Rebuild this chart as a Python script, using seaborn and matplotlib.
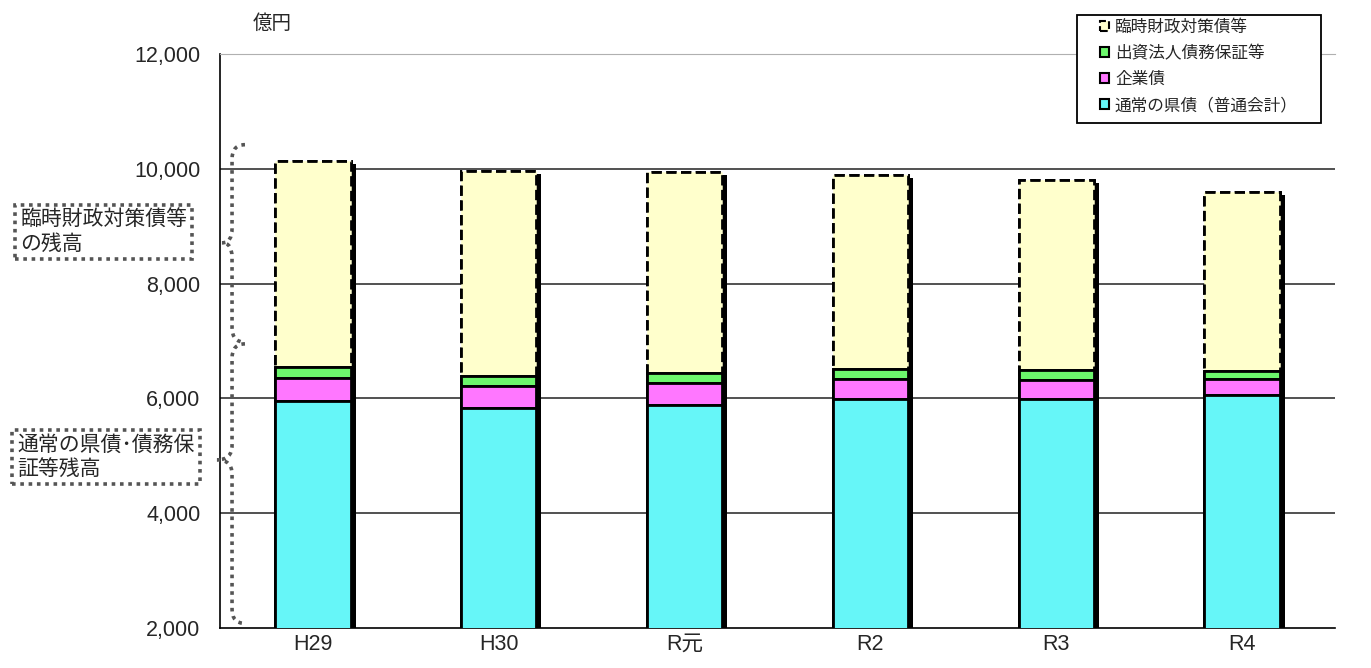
import numpy as np
import pandas as pd
import matplotlib
matplotlib.use("Agg")
import matplotlib.pyplot as plt
import matplotlib.patheffects as pe
from matplotlib.path import Path
from matplotlib.patches import PathPatch, Patch, Rectangle
import matplotlib.transforms as mtransforms
import seaborn as sns

# ---- data (億円) ----
categories = ["H29", "H30", "R元", "R2", "R3", "R4"]
kensai = [5955, 5830, 5890, 5985, 5985, 6055]          # 通常の県債(普通会計)
kigyosai = [400, 380, 375, 360, 330, 280]               # 企業債
hosho = [185, 175, 170, 175, 175, 145]                  # 出資法人債務保証等
rinji = [3600, 3580, 3515, 3375, 3318, 3120]            # 臨時財政対策債等

series_names = ["通常の県債（普通会計）", "企業債", "出資法人債務保証等", "臨時財政対策債等"]
series_colors = ["#66f6f8", "#ff77ff", "#6cf76c", "#ffffcc"]
yticks = [2000, 4000, 6000, 8000, 10000, 12000]

sns.set_style("white")
plt.rcParams["font.family"] = ["Liberation Sans", "Noto Sans CJK JP", "DejaVu Sans"]

df = pd.DataFrame({"cat": categories, "k": kensai, "g": kigyosai, "h": hosho, "r": rinji})
df["c1"] = df["k"]
df["c2"] = df["c1"] + df["g"]
df["c3"] = df["c2"] + df["h"]
df["c4"] = df["c3"] + df["r"]

fig = plt.figure(figsize=(13.71, 6.68), dpi=100)
ax = fig.add_axes([220 / 1371, 40 / 668, 1115 / 1371, 574 / 668])

shadow = [pe.withSimplePatchShadow(offset=(3.6, -2.5), shadow_rgbFace="black", alpha=1.0), pe.Normal()]

layers = [("c4", series_colors[3], "--"), ("c3", series_colors[2], "-"),
          ("c2", series_colors[1], "-"), ("c1", series_colors[0], "-")]
for col, colr, ls in layers:
    n0 = len(ax.patches)
    sns.barplot(data=df, x="cat", y=col, color=colr, width=0.405, ax=ax,
                edgecolor="black", linewidth=2.0, saturation=1)
    for p in ax.patches[n0:]:
        p.set_linestyle(ls)
        p.set_path_effects(shadow)
        p.set_zorder(3)

ax.set_ylim(2000, 12000)
ax.set_xlim(-0.5, 5.5)
ax.set_yticks(yticks)
ax.set_yticklabels([f"{v:,}" for v in yticks], fontsize=15.5)
ax.set_xticks(range(len(categories)))
ax.set_xticklabels(categories, fontsize=15.5)
ax.set_xticks(np.arange(0.5, 5.6, 1.0), minor=True)
ax.tick_params(axis="x", which="major", length=0, pad=4)
ax.tick_params(axis="x", which="minor", direction="in", length=5, width=1, color="black")
ax.tick_params(axis="y", direction="in", length=4, width=1, color="black", pad=14)
ax.set_xlabel("")
ax.set_ylabel("")

ax.set_axisbelow(True)
for v in [4000, 6000, 8000, 10000]:
    ax.axhline(v, color="#333333", lw=1.2, zorder=0)
ax.spines["top"].set_color("#b0b0b0")
ax.spines["right"].set_visible(False)
ax.spines["left"].set_color("black")
ax.spines["bottom"].set_color("black")
ax.spines["left"].set_linewidth(1.2)
ax.spines["bottom"].set_linewidth(1.2)

fig.text(272 / 1371, 1 - 24 / 668, "億円", fontsize=14, ha="center", va="center")

# ---- legend ----
fig.patches.append(Rectangle((1077 / 1371, 1 - 123 / 668), 244 / 1371, 108 / 668,
                             transform=fig.transFigure, fill=True, fc="white",
                             ec="black", lw=1.3, zorder=5))
handles = [Patch(facecolor=series_colors[3], edgecolor="black", lw=1.5, linestyle="--"),
           Patch(facecolor=series_colors[2], edgecolor="black", lw=1.5),
           Patch(facecolor=series_colors[1], edgecolor="black", lw=1.5),
           Patch(facecolor=series_colors[0], edgecolor="black", lw=1.5)]
labels = [series_names[3], series_names[2], series_names[1], series_names[0]]
leg = fig.legend(handles, labels, loc="upper left", bbox_to_anchor=(1100 / 1371, 1 - 19 / 668),
                 frameon=False, fontsize=12, handlelength=0.55, handleheight=0.55,
                 handletextpad=0.35, labelspacing=0.62, borderpad=0, borderaxespad=0)
leg.set_zorder(6)

# ---- braces ----
trans = mtransforms.blended_transform_factory(ax.transAxes, ax.transData)


def brace(ytop, ytip, ybot, xe=0.0224, xm=0.0108, xt=0.0, r=250):
    verts = [(xe, ytop), (xm, ytop), (xm, ytop - r),
             (xm, ytip + r),
             (xm, ytip), (xt, ytip),
             (xm, ytip), (xm, ytip - r),
             (xm, ybot + r),
             (xm, ybot), (xe, ybot)]
    codes = [Path.MOVETO, Path.CURVE3, Path.CURVE3, Path.LINETO,
             Path.CURVE3, Path.CURVE3, Path.CURVE3, Path.CURVE3,
             Path.LINETO, Path.CURVE3, Path.CURVE3]
    pp = PathPatch(Path(verts, codes), transform=trans, fill=False, ec="#555555",
                   lw=2.6, linestyle=(0, (1, 1.3)), clip_on=False, zorder=4)
    ax.add_patch(pp)


brace(10420, 8710, 6980, xt=0.0018)
brace(6950, 4930, 2080, xt=-0.0027)

# ---- annotation boxes ----
box = dict(boxstyle="square,pad=0.25", fc="white", ec="#555555", lw=2.6, linestyle=(0, (1, 1.3)))
fig.text(20 / 1371, 1 - 232 / 668, "臨時財政対策債等\nの残高", fontsize=15, ha="left", va="center",
         linespacing=1.3, bbox=box)
fig.text(17 / 1371, 1 - 457 / 668, "通常の県債･債務保\n証等残高", fontsize=15, ha="left", va="center",
         linespacing=1.3, bbox=box)

fig.savefig("out.png", dpi=100)
